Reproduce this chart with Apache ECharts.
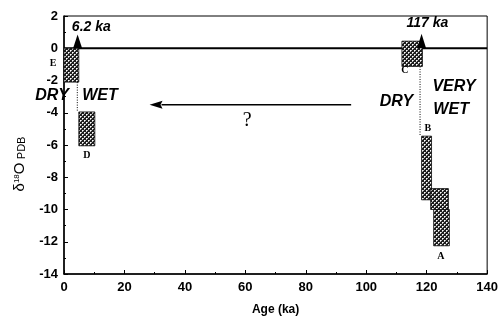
<!DOCTYPE html>
<html>
<head>
<meta charset="utf-8">
<script src="https://cdn.jsdelivr.net/npm/echarts@6/dist/echarts.min.js"></script>
<style>
html,body{margin:0;padding:0;background:#fff;}
#chart{width:501px;height:321px;}
</style>
</head>
<body>
<div id="chart"></div>
<script>
// ---- data ----
const xTickLabels = [0, 20, 40, 60, 80, 100, 120, 140];
const yTickLabels = [-14, -12, -10, -8, -6, -4, -2, 0, 2];

// sample boxes (age range in ka, δ18O range)
const boxNames = ['E', 'D', 'C', 'B', 'A-upper', 'A-lower'];
const boxAgeStart = [0, 4.9, 111.8, 118.3, 121.3, 122.3];
const boxAgeEnd = [4.9, 10.2, 118.6, 121.6, 127.2, 127.5];
const boxD18OTop = [0, -3.95, 0.44, -5.45, -8.7, -10.0];
const boxD18OBottom = [-2.1, -6.05, -1.13, -9.4, -10.0, -12.25];

// event markers (triangles on the zero line)
const eventAges = [4.5, 118.3];
const eventTip = [0.85, 0.9];

// dotted transitions
const transitionAges = [4.4, 117.8];
const transitionFrom = [-2.1, -1.13];
const transitionTo = [-3.95, -5.45];

// reference line at δ18O = 0
const refLineAges = [0, 140];
const refLineValue = [0, 0];

// "?" arrow (age from -> to, δ18O)
const arrowFromAge = [95];
const arrowToAge = [28.3];
const arrowD18O = [-3.5];

// annotations
const noteText = ['6.2 ka', '117 ka', 'DRY', 'WET', 'DRY', 'VERY', 'WET', '?', 'E', 'D', 'C', 'B', 'A'];
const noteAge = [2.6, 113.3, -3.95, 11.9, 110.0, 121.9, 122.2, 60.6, -3.6, 7.6, 112.8, 120.4, 124.7];
const noteD18O = [1.33, 1.55, -2.91, -2.91, -3.33, -2.39, -3.82, -4.48, -0.97, -6.67, -1.39, -4.97, -12.94];
const noteKind = ['event', 'event', 'climate', 'climate', 'climate', 'climateL', 'climateL', 'question', 'sample', 'sample', 'sample', 'sample', 'sample'];

// ---- styles ----
const SANS = '"Liberation Sans", Arial, Helvetica, sans-serif';
const SERIF = '"Liberation Serif", "Times New Roman", serif';
const noteStyles = {
  event: {font: 'italic bold 14px ' + SANS, align: 'left'},
  climate: {font: 'italic bold 16px ' + SANS, align: 'center'},
  climateL: {font: 'italic bold 16px ' + SANS, align: 'left'},
  question: {font: '20px ' + SERIF, align: 'center'},
  sample: {font: 'bold 10px ' + SERIF, align: 'center'}
};

function makePattern() {
  const c = document.createElement('canvas');
  c.width = 4; c.height = 4;
  const g = c.getContext('2d');
  g.fillStyle = '#1e1e1e';
  g.fillRect(0, 0, 4, 4);
  g.fillStyle = '#b8b8b8';
  [[1, 0], [0, 1], [3, 2], [2, 3]].forEach(p => g.fillRect(p[0], p[1], 1, 1));
  g.fillStyle = '#ffffff';
  g.fillRect(0, 0, 1, 1);
  g.fillRect(2, 2, 1, 1);
  return c;
}
const hatch = {image: makePattern(), repeat: 'repeat'};

const chart = echarts.init(document.getElementById('chart'), null, {renderer: 'canvas'});

const boxData = boxNames.map((n, i) => [boxAgeStart[i], boxAgeEnd[i], boxD18OTop[i], boxD18OBottom[i]]);
const eventData = eventAges.map((a, i) => [a, eventTip[i]]);
const arrowData = arrowFromAge.map((a, i) => [a, arrowToAge[i], arrowD18O[i]]);
const noteData = noteText.map((t, i) => [noteAge[i], noteD18O[i]]);

const option = {
  animation: false,
  backgroundColor: '#fff',
  grid: {left: 64, right: 12, top: 16, bottom: 40, show: true, borderColor: '#000', borderWidth: 1},
  xAxis: {
    type: 'value',
    min: xTickLabels[0], max: xTickLabels[xTickLabels.length - 1],
    interval: xTickLabels[1] - xTickLabels[0],
    axisLine: {show: true, onZero: false, lineStyle: {color: '#000', width: 1.5}},
    axisTick: {show: true, inside: true, length: 4, lineStyle: {color: '#000'}},
    minorTick: {show: true, splitNumber: 2, length: 2, lineStyle: {color: '#000'}},
    splitLine: {show: false},
    axisLabel: {color: '#000', fontFamily: SANS, fontWeight: 'bold', fontSize: 13, margin: 7},
    name: 'Age (ka)', nameLocation: 'middle', nameGap: 30,
    nameTextStyle: {color: '#000', fontFamily: SANS, fontWeight: 'bold', fontSize: 12}
  },
  yAxis: {
    type: 'value',
    min: yTickLabels[0], max: yTickLabels[yTickLabels.length - 1],
    interval: yTickLabels[1] - yTickLabels[0],
    axisLine: {show: true, onZero: false, lineStyle: {color: '#000', width: 1.5}},
    axisTick: {show: true, inside: true, length: 4, lineStyle: {color: '#000'}},
    minorTick: {show: true, splitNumber: 2, length: 2, lineStyle: {color: '#000'}},
    splitLine: {show: false},
    axisLabel: {color: '#000', fontFamily: SANS, fontWeight: 'bold', fontSize: 13, margin: 6}
  },
  graphic: [{
    type: 'text', x: 20, y: 164, rotation: Math.PI / 2,
    style: {
      text: '{d|δ}{s|18}{d|O} {p|PDB}',
      align: 'center', verticalAlign: 'middle', fill: '#000',
      rich: {
        d: {fontSize: 15, fontFamily: SANS, fill: '#000', verticalAlign: 'bottom'},
        s: {fontSize: 8, fontFamily: SANS, fill: '#000', verticalAlign: 'top'},
        p: {fontSize: 11, fontFamily: SANS, fill: '#000', verticalAlign: 'bottom'}
      }
    }
  }],
  series: [
    {
      type: 'line', data: refLineAges.map((a, i) => [a, refLineValue[i]]),
      symbol: 'none', lineStyle: {color: '#000', width: 2}, silent: true, z: 3
    },
    ...transitionAges.map((a, i) => ({
      type: 'line', data: [[a, transitionFrom[i]], [a, transitionTo[i]]],
      symbol: 'none', lineStyle: {color: '#000', width: 1, type: [1, 1.5]}, silent: true, z: 3
    })),
    {
      type: 'custom', data: boxData, z: 4,
      renderItem: function (params, api) {
        const p0 = api.coord([api.value(0), api.value(2)]);
        const p1 = api.coord([api.value(1), api.value(3)]);
        return {
          type: 'rect',
          shape: {x: p0[0], y: p0[1], width: p1[0] - p0[0], height: p1[1] - p0[1]},
          style: {fill: hatch, stroke: '#111', lineWidth: 0.8}
        };
      }
    },
    {
      type: 'custom', data: eventData, z: 5,
      renderItem: function (params, api) {
        const b = api.coord([api.value(0), 0]);
        const t = api.coord([api.value(0), api.value(1)]);
        return {
          type: 'polygon',
          shape: {points: [[b[0] - 4.5, b[1]], [b[0] + 4.5, b[1]], [t[0], t[1]]]},
          style: {fill: '#000'}
        };
      }
    },
    {
      type: 'custom', data: arrowData, z: 5,
      renderItem: function (params, api) {
        const f = api.coord([api.value(0), api.value(2)]);
        const t = api.coord([api.value(1), api.value(2)]);
        const headLen = 13, headHalf = 4;
        return {
          type: 'group',
          children: [
            {type: 'line', shape: {x1: f[0], y1: f[1], x2: t[0] + headLen - 1, y2: t[1]}, style: {stroke: '#000', lineWidth: 1.5}},
            {type: 'polygon', shape: {points: [[t[0], t[1]], [t[0] + headLen, t[1] - headHalf], [t[0] + headLen - 2, t[1]], [t[0] + headLen, t[1] + headHalf]]}, style: {fill: '#000'}}
          ]
        };
      }
    },
    {
      type: 'custom', data: noteData, z: 6,
      renderItem: function (params, api) {
        const i = params.dataIndex;
        const p = api.coord([api.value(0), api.value(1)]);
        const st = noteStyles[noteKind[i]];
        return {
          type: 'text', x: p[0], y: p[1],
          style: {text: noteText[i], font: st.font, fill: '#000', align: st.align, verticalAlign: 'middle'}
        };
      }
    }
  ]
};
chart.setOption(option);
</script>
</body>
</html>
